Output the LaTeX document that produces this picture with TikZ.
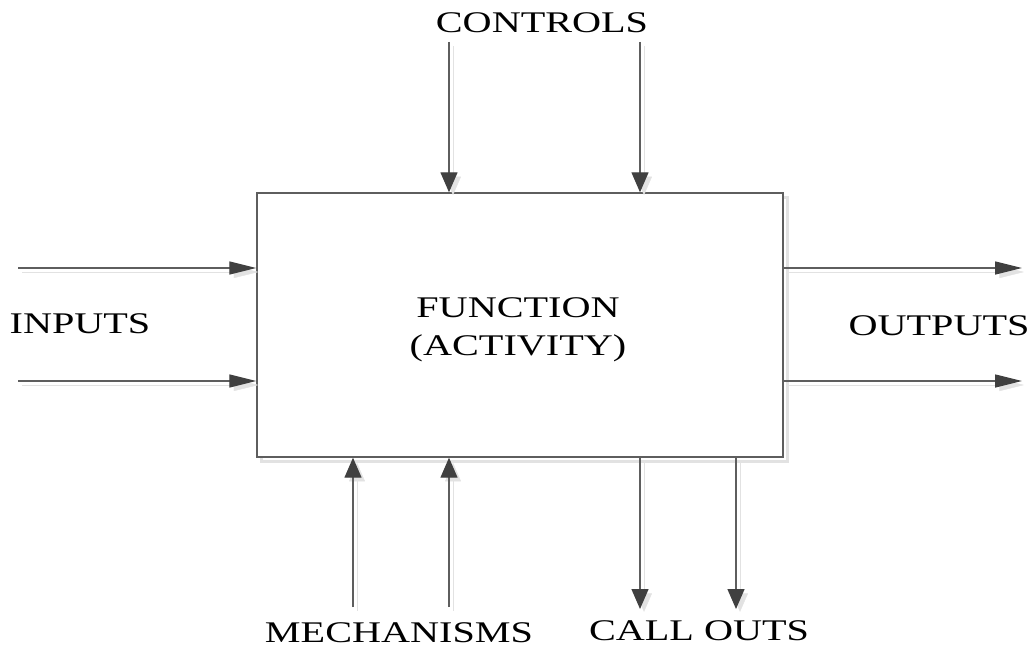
\documentclass[tikz,border=0pt]{standalone}
\usepackage{fontspec}
\setmainfont{Liberation Serif}[FakeStretch=1.34]
\usetikzlibrary{arrows.meta}
\definecolor{linegray}{HTML}{5E5E5E}
\definecolor{headgray}{HTML}{404040}
\definecolor{shadegray}{HTML}{E2E2E2}
\begin{document}
\begin{tikzpicture}[x=1pt,y=-1pt,
  lbl/.style={font=\fontsize{30}{36}\selectfont, anchor=base, inner sep=0pt},
  funcbox/.style={draw=linegray, line width=1.4pt, fill=white, rectangle,
    minimum width=526pt, minimum height=264pt, inner sep=0pt,
    preaction={draw=shadegray, line width=3pt, transform canvas={shift={(4pt,-4pt)}}}},
  vflow/.style={draw=linegray, line width=1.3pt,
    -{Triangle[length=20pt,width=17pt,color=headgray]},
    preaction={draw=shadegray, -{Triangle[length=20pt,width=17pt,color=shadegray]},
      transform canvas={shift={(4pt,-4pt)}}}},
  hflow/.style={draw=linegray, line width=1.3pt,
    -{Triangle[length=27pt,width=13pt,color=headgray]},
    preaction={draw=shadegray, -{Triangle[length=27pt,width=13pt,color=shadegray]},
      transform canvas={shift={(4pt,-4pt)}}}}]
  \useasboundingbox (0,0) rectangle (1035,647);

  % activity box
  \node[funcbox] (fn) at (520,325) {};
  \node[lbl] (fname) at (518,317) {FUNCTION};
  \node[lbl] (fact) at (518,355) {(ACTIVITY)};

  % free ends of the connectors
  \coordinate (c1) at (449,42);
  \coordinate (c2) at (640,42);
  \coordinate (i1) at (18,268);
  \coordinate (i2) at (18,381);
  \coordinate (o1) at (1022,268);
  \coordinate (o2) at (1022,381);
  \coordinate (m1) at (353,607);
  \coordinate (m2) at (449,607);
  \coordinate (k1) at (640,609);
  \coordinate (k2) at (736,609);

  % controls
  \draw[vflow] (c1) -- (c1 |- fn.north);
  \draw[vflow] (c2) -- (c2 |- fn.north);
  % inputs
  \draw[hflow] (i1) -- (i1 -| fn.west);
  \draw[hflow] (i2) -- (i2 -| fn.west);
  % outputs
  \draw[hflow] (o1 -| fn.east) -- (o1);
  \draw[hflow] (o2 -| fn.east) -- (o2);
  % mechanisms
  \draw[vflow] (m1) -- (m1 |- fn.south);
  \draw[vflow] (m2) -- (m2 |- fn.south);
  % call outs
  \draw[vflow] (k1 |- fn.south) -- (k1);
  \draw[vflow] (k2 |- fn.south) -- (k2);

  % labels
  \node[lbl] (controls) at (542,33) {CONTROLS};
  \node[lbl] (inputs) at (80,333) {INPUTS};
  \node[lbl] (outputs) at (939,335) {OUTPUTS};
  \node[lbl] (mech) at (399,642) {MECHANISMS};
  \node[lbl] (callouts) at (699,640) {CALL OUTS};
\end{tikzpicture}
\end{document}
